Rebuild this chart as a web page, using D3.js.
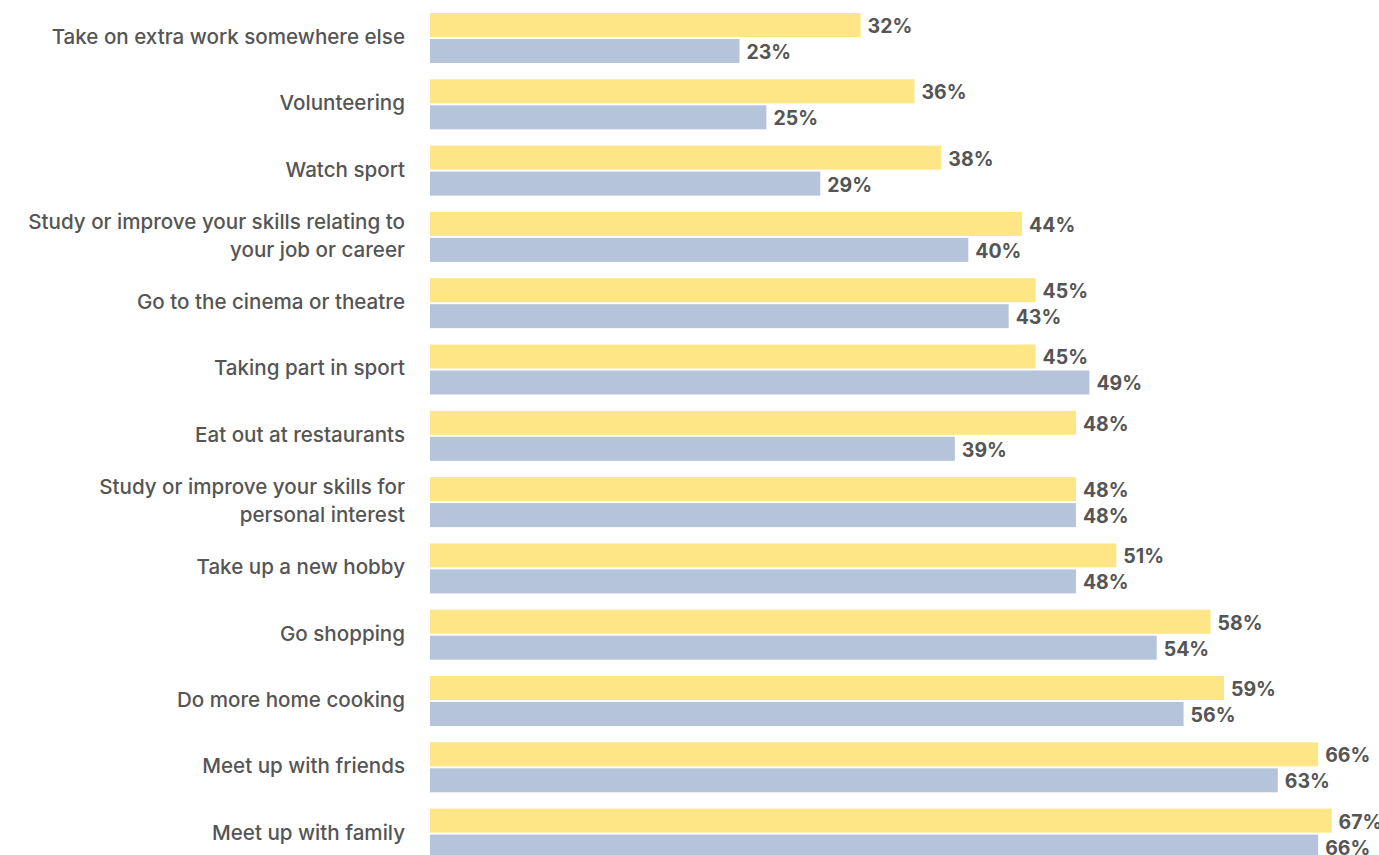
<!DOCTYPE html>
<html><head><meta charset="utf-8">
<script src="https://cdn.jsdelivr.net/npm/d3@7"></script>
<style>
html,body{margin:0;padding:0;background:#fff;overflow:hidden;}
svg{display:block;}
</style></head>
<body>
<svg id="chart" width="1379" height="855"></svg>
<script>
const categories = [
  "Take on extra work somewhere else",
  "Volunteering",
  "Watch sport",
  "Study or improve your skills relating to|your job or career",
  "Go to the cinema or theatre",
  "Taking part in sport",
  "Eat out at restaurants",
  "Study or improve your skills for|personal interest",
  "Take up a new hobby",
  "Go shopping",
  "Do more home cooking",
  "Meet up with friends",
  "Meet up with family"
];
const seriesNames = ["yellow", "blue"];
const yellowValues = [32, 36, 38, 44, 45, 45, 48, 48, 51, 58, 59, 66, 67];
const blueValues   = [23, 25, 29, 40, 43, 49, 39, 48, 48, 54, 56, 63, 66];
const colors = {yellow: "#FEE585", blue: "#B5C4DA"};

const svg = d3.select("#chart");
const x = d3.scaleLinear().domain([0, 100]).range([430, 1775.7]);
const y = d3.scaleBand().domain(categories).range([13, 858.6]).paddingInner(0.246).paddingOuter(0);
const ys = d3.scaleBand().domain(seriesNames).range([0, y.bandwidth()]).paddingInner(0.0769);

const data = categories.map((c, i) => ({cat: c, yellow: yellowValues[i], blue: blueValues[i]}));

const g = svg.selectAll("g.grp").data(data).join("g")
  .attr("class", "grp")
  .attr("transform", d => `translate(0,${y(d.cat)})`);

g.selectAll("rect").data(d => seriesNames.map(s => ({s, v: d[s]}))).join("rect")
  .attr("x", x(0))
  .attr("y", d => ys(d.s))
  .attr("width", d => x(d.v) - x(0))
  .attr("height", ys.bandwidth())
  .attr("fill", d => colors[d.s]);

g.selectAll("text.val").data(d => seriesNames.map(s => ({s, v: d[s]}))).join("text")
  .attr("class", "val")
  .attr("x", d => x(d.v) + 7)
  .attr("y", d => ys(d.s) + ys.bandwidth() / 2 + 1)
  .attr("dominant-baseline", "central")
  .attr("font-family", "Inter, 'Noto Sans', sans-serif")
  .attr("font-weight", 700)
  .attr("font-size", 19.5)
  .attr("fill", "#555")
  .text(d => d.v + "%");

const lab = g.append("text")
  .attr("class", "cat")
  .attr("text-anchor", "end")
  .attr("font-family", "Inter, 'Noto Sans', sans-serif")
  .attr("font-weight", 500)
  .attr("font-size", 20.6)
  .attr("fill", "#555");

lab.each(function(d) {
  const lines = d.cat.split("|");
  const t = d3.select(this);
  const cy = y.bandwidth() / 2 - 1.5;
  const lh = 28;
  lines.forEach((ln, i) => {
    t.append("tspan")
      .attr("x", 405)
      .attr("y", cy + (i - (lines.length - 1) / 2) * lh)
      .attr("dominant-baseline", "central")
      .text(ln);
  });
});
</script>
</body></html>
